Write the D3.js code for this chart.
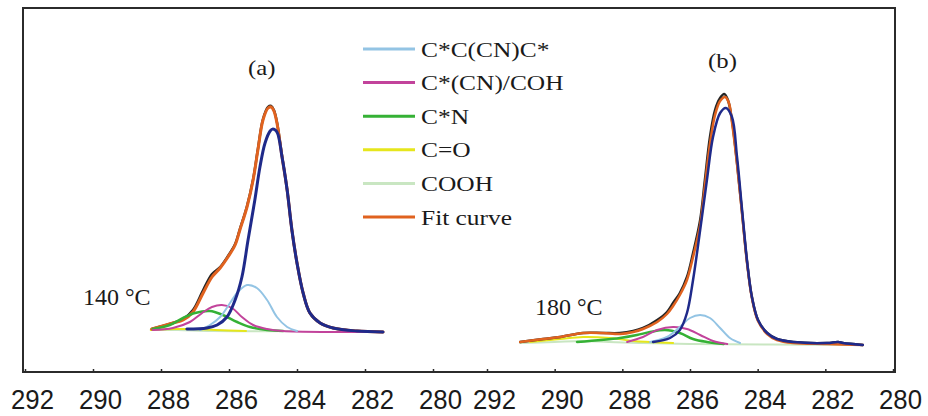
<!DOCTYPE html>
<html><head><meta charset="utf-8">
<script src="https://cdn.jsdelivr.net/npm/d3@7"></script>
<style>body{margin:0;background:#fff}svg{display:block}</style>
</head><body>
<svg id="chart" width="928" height="416"></svg>
<script>
// ---------- data: [binding energy (eV), intensity (a.u.)] ----------
const tickValues = [292, 290, 288, 286, 284, 282, 280];
const legendLabels = ["C*C(CN)C*", "C*(CN)/COH", "C*N", "C=O", "COOH", "Fit curve"];
const panelLabels = ["(a)", "(b)"];
const tempLabels = ["140 °C", "180 °C"];

// panel (a) 140 °C
const rawA = [[288.27,2],[287.65,8],[287.35,12],[287.06,21],[286.76,41],[286.50,57],[286.26,64],[286.03,75],[285.82,87],[285.68,102],[285.47,125],[285.29,152],[285.15,182],[285.00,212],[284.85,224],[284.76,225],[284.68,221],[284.59,209],[284.44,175],[284.29,141],[284.15,101],[284.00,68],[283.82,38],[283.62,18],[283.32,8],[282.94,3],[282.24,0],[281.47,-1]];
const fitA = [[288.27,2],[287.65,8],[287.35,11],[287.06,19],[286.76,38],[286.50,54],[286.26,63],[286.03,74],[285.82,86],[285.68,101],[285.47,124],[285.29,151],[285.15,181],[285.00,211],[284.85,223],[284.76,224],[284.68,220],[284.59,208],[284.44,174],[284.29,141],[284.15,101],[284.00,68],[283.82,38],[283.62,18],[283.32,8],[282.94,3],[282.24,0],[281.47,-1]];
const mainA = [[287.24,2],[286.65,3],[286.35,6],[286.06,14],[285.82,31],[285.62,54],[285.44,91],[285.24,131],[285.09,164],[284.94,188],[284.79,200],[284.71,202],[284.59,199],[284.44,174],[284.29,141],[284.15,101],[284.00,68],[283.82,38],[283.62,18],[283.32,8],[282.94,3],[282.24,0],[281.47,-1]];
const ccncA = [[286.85,1],[286.56,6],[286.26,14],[285.97,28],[285.74,39],[285.47,46],[285.18,43],[284.88,31],[284.59,14],[284.29,4],[284.00,0]];
const cnohA = [[288.24,1],[287.65,3],[287.15,9],[286.79,18],[286.50,24],[286.21,26],[285.91,23],[285.62,14],[285.29,6],[284.88,2],[284.41,0],[283.0,-1],[281.47,-1]];
const cnA = [[288.24,2],[287.74,6],[287.35,13],[287.00,18],[286.56,20],[286.18,16],[285.76,9],[285.38,4],[284.88,1],[284.41,0]];
const coA = [[288.3,1],[287.6,2],[287.0,2],[286.4,1],[285.5,0]];
const coohA = [[288.3,1],[287.5,1],[286.5,0],[284.0,0]];

// panel (b) 180 °C
const rawB = [[291.02,2],[290.34,5],[289.84,7],[289.16,11],[288.57,11],[288.07,11],[287.68,13],[287.39,16],[286.97,24],[286.68,32],[286.50,41],[286.30,51],[286.09,67],[285.91,91],[285.70,124],[285.56,164],[285.41,207],[285.26,234],[285.11,246],[284.99,250],[284.88,244],[284.76,224],[284.61,181],[284.46,131],[284.31,81],[284.17,47],[283.99,24],[283.72,11],[283.43,5],[282.95,2],[281.95,1],[281.62,2],[281.48,1],[280.89,-1]];
const fitB = [[291.02,2],[290.34,5],[289.84,7],[289.16,11],[288.57,11],[288.07,10],[287.68,12],[287.39,15],[286.97,22],[286.68,30],[286.50,38],[286.30,49],[286.09,64],[285.91,87],[285.70,119],[285.56,158],[285.41,200],[285.26,229],[285.11,243],[284.96,247],[284.85,241],[284.76,222],[284.61,180],[284.46,130],[284.31,80],[284.17,46],[283.99,23],[283.72,10],[283.43,4],[282.95,1],[281.95,0],[280.89,-1]];
const mainB = [[287.09,2],[286.59,6],[286.30,14],[286.09,31],[285.91,64],[285.70,114],[285.50,164],[285.32,207],[285.11,231],[284.94,236],[284.76,227],[284.61,187],[284.46,134],[284.31,82],[284.17,47],[283.99,24],[283.72,11],[283.43,5],[282.95,2],[281.95,1],[281.62,2],[281.48,1],[280.89,-1]];
const ccncB = [[287.18,2],[286.68,7],[286.30,17],[286.00,26],[285.70,29],[285.41,26],[285.11,16],[284.82,6],[284.52,1]];
const cnohB = [[287.86,2],[287.39,7],[286.97,14],[286.50,17],[286.09,15],[285.70,9],[285.32,3],[284.9,0]];
const cnB = [[289.34,2],[288.07,6],[287.57,9],[287.18,12],[286.74,14],[286.30,11],[285.91,5],[285.50,2],[285.0,0]];
const coB = [[290.73,2],[289.84,5],[289.16,7],[288.36,6],[287.68,3],[287.18,2],[286.5,1]];
const coohB = [[291.02,1],[290.0,2],[289.2,3],[288.4,2],[287.5,1],[286.0,0],[280.89,-1]];

// ---------- drawing ----------
const svg = d3.select("#chart");
const colors = {raw:"#262626", fit:"#e0621f", main:"#1f2a8a", ccnc:"#93c4e4", cnoh:"#c2439b", cn:"#35b135", co:"#e6e61c", cooh:"#c9e6c2"};
const legendColors = [colors.ccnc, colors.cnoh, colors.cn, colors.co, colors.cooh, colors.fit];

const frame = {left:23, top:8, right:895, bottom:372};
const xA = d3.scaleLinear().domain([292, 280]).range([25, 433]);
const xB = d3.scaleLinear().domain([292, 280]).range([487, 893]);
const yA = d3.scaleLinear().domain([0, 250]).range([331, 81]);
const yB = d3.scaleLinear().domain([0, 250]).range([344, 94]);

function drawPanel(x, y, series) {
  const line = d3.line().x(d => x(d[0])).y(d => y(d[1])).curve(d3.curveCatmullRom.alpha(0.5));
  series.forEach(s => {
    svg.append("path").datum(s.data).attr("d", line)
      .attr("fill", "none").attr("stroke", s.color).attr("stroke-width", s.w)
      .attr("stroke-linejoin", "round").attr("stroke-linecap", "round");
  });
}

drawPanel(xA, yA, [
  {data: coohA, color: colors.cooh, w: 2},
  {data: coA, color: colors.co, w: 2},
  {data: rawA, color: colors.raw, w: 2.5},
  {data: fitA, color: colors.fit, w: 3},
  {data: cnA, color: colors.cn, w: 2.5},
  {data: cnohA, color: colors.cnoh, w: 2},
  {data: ccncA, color: colors.ccnc, w: 2},
  {data: mainA, color: colors.main, w: 3}
]);
drawPanel(xB, yB, [
  {data: coohB, color: colors.cooh, w: 2},
  {data: coB, color: colors.co, w: 2},
  {data: cnB, color: colors.cn, w: 2.5},
  {data: cnohB, color: colors.cnoh, w: 2},
  {data: ccncB, color: colors.ccnc, w: 2},
  {data: rawB, color: colors.raw, w: 2.5},
  {data: fitB, color: colors.fit, w: 2.5},
  {data: mainB, color: colors.main, w: 2.5}
]);

// frame
svg.append("rect").attr("x", frame.left).attr("y", frame.top)
  .attr("width", frame.right - frame.left).attr("height", frame.bottom - frame.top)
  .attr("fill", "none").attr("stroke", "#2b2b2b").attr("stroke-width", 2);

// axes
[xA, xB].forEach(x => {
  const g = svg.append("g").attr("transform", `translate(0,${frame.bottom})`)
    .call(d3.axisBottom(x).tickValues(tickValues).tickSize(-3).tickFormat(d3.format("d")));
  g.select(".domain").remove();
  g.selectAll(".tick line").attr("stroke", "#2b2b2b").attr("stroke-width", 1.5);
  g.selectAll(".tick text")
    .attr("y", 37).attr("dy", null).attr("dx", 7 / 0.92)
    .attr("transform", "scale(0.92,1)")
    .attr("font-family", "'Liberation Sans', Arial, sans-serif")
    .attr("font-size", 28).attr("fill", "#1a1a1a");
});

// legend
const leg = svg.append("g");
legendLabels.forEach((t, i) => {
  const yy = 49 + i * 33.6;
  leg.append("line").attr("x1", 363).attr("x2", 415).attr("y1", yy).attr("y2", yy)
    .attr("stroke", legendColors[i]).attr("stroke-width", 3);
  leg.append("text").attr("transform", `translate(421,${yy + 7.5}) scale(1.27,1)`)
    .attr("font-family", "'Liberation Serif', 'Times New Roman', serif")
    .attr("font-size", 20).attr("fill", "#1a1a1a").text(t);
});

// panel and temperature labels
const serif = "'Liberation Serif', 'Times New Roman', serif";
[[248, 75], [708, 68]].forEach((p, i) => {
  svg.append("text").attr("transform", `translate(${p[0]},${p[1]}) scale(1.18,1)`)
    .attr("font-family", serif).attr("font-size", 21).attr("fill", "#1a1a1a").text(panelLabels[i]);
});
[[83, 305], [535, 315]].forEach((p, i) => {
  svg.append("text").attr("x", p[0]).attr("y", p[1])
    .attr("font-family", serif).attr("font-size", 24).attr("fill", "#1a1a1a").text(tempLabels[i]);
});
</script>
</body></html>
